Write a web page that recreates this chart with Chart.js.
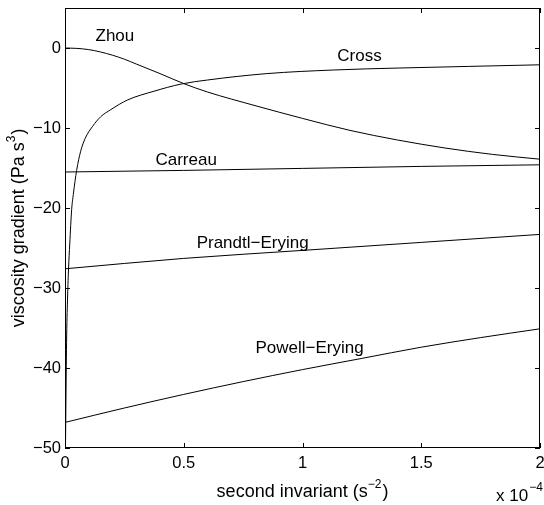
<!DOCTYPE html>
<html>
<head>
<meta charset="utf-8">
<script src="https://cdn.jsdelivr.net/npm/chart.js@4"></script>
<style>
  html, body { margin: 0; padding: 0; background: #fff; }
  #wrap { width: 544px; height: 505px; }
</style>
</head>
<body>
<div id="wrap"><canvas id="chart"></canvas></div>
<script>
// second invariant in units of 1e-4 s^-2
const xTicks = [0, 0.5, 1, 1.5, 2];
const yTicks = [-50, -40, -30, -20, -10, 0];

const zhouX = [0, 0.05, 0.1, 0.15, 0.2, 0.25, 0.3, 0.4, 0.5, 0.6, 0.8, 1.0, 1.2, 1.4, 1.6, 1.8, 2.0];
const zhouY = [0, -0.05, -0.2, -0.5, -0.9, -1.4, -2.0, -3.2, -4.45, -5.5, -7.2, -8.8, -10.3, -11.5, -12.5, -13.3, -13.9];

const crossX = [0.002, 0.004, 0.007, 0.011, 0.015, 0.02, 0.028, 0.035, 0.049, 0.066, 0.085, 0.116, 0.15, 0.193, 0.263, 0.375, 0.49, 0.6, 0.85, 1.13, 1.41, 1.7, 2.0];
const crossY = [-50, -44, -36, -31, -27.5, -24.5, -20.2, -18.3, -15.3, -12.9, -11.3, -9.8, -8.6, -7.7, -6.5, -5.4, -4.5, -4.0, -3.2, -2.75, -2.5, -2.3, -2.1];

const carreauX = [0, 0.5, 1.0, 1.5, 2.0];
const carreauY = [-15.5, -15.3, -15.05, -14.8, -14.6];

const prandtlX = [0, 0.5, 1.0, 1.5, 2.0];
const prandtlY = [-27.6, -26.3, -25.3, -24.3, -23.3];

const powellX = [0, 0.25, 0.5, 0.75, 1.0, 1.25, 1.5, 1.75, 2.0];
const powellY = [-46.8, -45.0, -43.3, -41.7, -40.2, -38.8, -37.4, -36.2, -35.1];

// curve names placed at data coordinates
const curveLabels = [
  { text: 'Zhou', x: 0.21, y: 1.4 },
  { text: 'Cross', x: 1.24, y: -1.1 },
  { text: 'Carreau', x: 0.51, y: -14.0 },
  { text: 'Prandtl\u2212Erying', x: 0.79, y: -24.4 },
  { text: 'Powell\u2212Erying', x: 1.03, y: -37.5 }
];

const FONT = '"Liberation Sans", Arial, Helvetica, sans-serif';

function pts(xs, ys) {
  return xs.map((x, i) => ({ x: x, y: ys[i] }));
}

function series(xs, ys) {
  return {
    data: pts(xs, ys),
    borderColor: '#000',
    borderWidth: 1,
    pointRadius: 0,
    fill: false,
    cubicInterpolationMode: 'monotone'
  };
}

// frame with inward ticks on all four sides
const framePlugin = {
  id: 'frame',
  afterDraw(chart) {
    const { ctx, chartArea: a, scales } = chart;
    ctx.save();
    ctx.strokeStyle = '#000';
    ctx.lineWidth = 1;
    ctx.strokeRect(a.left + 0.5, a.top + 0.5, a.right - a.left - 1, a.bottom - a.top - 1);
    ctx.beginPath();
    const len = 5;
    xTicks.forEach(v => {
      const px = Math.round(scales.x.getPixelForValue(v)) + 0.5;
      ctx.moveTo(px, a.bottom); ctx.lineTo(px, a.bottom - len);
      ctx.moveTo(px, a.top); ctx.lineTo(px, a.top + len);
    });
    yTicks.forEach(v => {
      const py = Math.round(scales.y.getPixelForValue(v)) + 0.5;
      ctx.moveTo(a.left, py); ctx.lineTo(a.left + len, py);
      ctx.moveTo(a.right, py); ctx.lineTo(a.right - len, py);
    });
    ctx.stroke();

    // curve names
    ctx.fillStyle = '#000';
    ctx.font = '17px ' + FONT;
    ctx.textAlign = 'center';
    ctx.textBaseline = 'middle';
    curveLabels.forEach(l => {
      ctx.fillText(l.text, scales.x.getPixelForValue(l.x), scales.y.getPixelForValue(l.y));
    });

    // axis titles with superscripts
    ctx.textBaseline = 'alphabetic';
    ctx.textAlign = 'left';
    drawSup(ctx, 'second invariant (s', '\u22122', ')', (a.left + a.right) / 2, 497);

    ctx.save();
    ctx.translate(24, (a.top + a.bottom) / 2);
    ctx.rotate(-Math.PI / 2);
    drawSup(ctx, 'viscosity gradient (Pa s', '3', ')', 0, 0);
    ctx.restore();

    // exponent note under the x axis
    ctx.font = '17px ' + FONT;
    const base = 'x 10';
    const bx = 496, by = 501;
    ctx.fillText(base, bx, by);
    const bw = ctx.measureText(base).width;
    ctx.font = '12px ' + FONT;
    ctx.fillText('\u22124', bx + bw + 1, by - 10);
    ctx.restore();
  }
};

function drawSup(ctx, pre, sup, post, cx, baseY) {
  const big = '18px ' + FONT, small = '12px ' + FONT;
  ctx.font = big;
  const w1 = ctx.measureText(pre).width;
  const w3 = ctx.measureText(post).width;
  ctx.font = small;
  const w2 = ctx.measureText(sup).width;
  let x = cx - (w1 + w2 + w3 + 1) / 2;
  ctx.font = big;
  ctx.fillText(pre, x, baseY);
  x += w1;
  ctx.font = small;
  ctx.fillText(sup, x, baseY - 9);
  x += w2 + 1;
  ctx.font = big;
  ctx.fillText(post, x, baseY);
}

const fmt = v => String(v).replace('-', '\u2212');

new Chart(document.getElementById('chart'), {
  type: 'line',
  data: {
    datasets: [
      series(zhouX, zhouY),
      series(crossX, crossY),
      series(carreauX, carreauY),
      series(prandtlX, prandtlY),
      series(powellX, powellY)
    ]
  },
  options: {
    responsive: true,
    maintainAspectRatio: false,
    animation: false,
    layout: { padding: { top: 8, right: 4, left: 0, bottom: 0 } },
    plugins: {
      legend: { display: false },
      tooltip: { enabled: false }
    },
    scales: {
      x: {
        type: 'linear',
        min: 0,
        max: 2,
        grid: { display: false, drawTicks: false },
        border: { display: false },
        afterBuildTicks: s => { s.ticks = xTicks.map(v => ({ value: v })); },
        afterFit: s => { s.height = 57; s.paddingLeft = 0; s.paddingRight = 0; },
        ticks: {
          padding: 6,
          color: '#000',
          font: { family: FONT, size: 16.5 },
          maxRotation: 0,
          callback: v => fmt(v)
        }
      },
      y: {
        type: 'linear',
        min: -50,
        max: 5,
        grid: { display: false, drawTicks: false },
        border: { display: false },
        afterBuildTicks: s => { s.ticks = yTicks.map(v => ({ value: v })); },
        afterFit: s => { s.width = 65; s.paddingTop = 0; s.paddingBottom = 0; },
        ticks: {
          padding: 4,
          color: '#000',
          font: { family: FONT, size: 16.5 },
          callback: v => fmt(v)
        }
      }
    }
  },
  plugins: [framePlugin]
});
</script>
</body>
</html>
